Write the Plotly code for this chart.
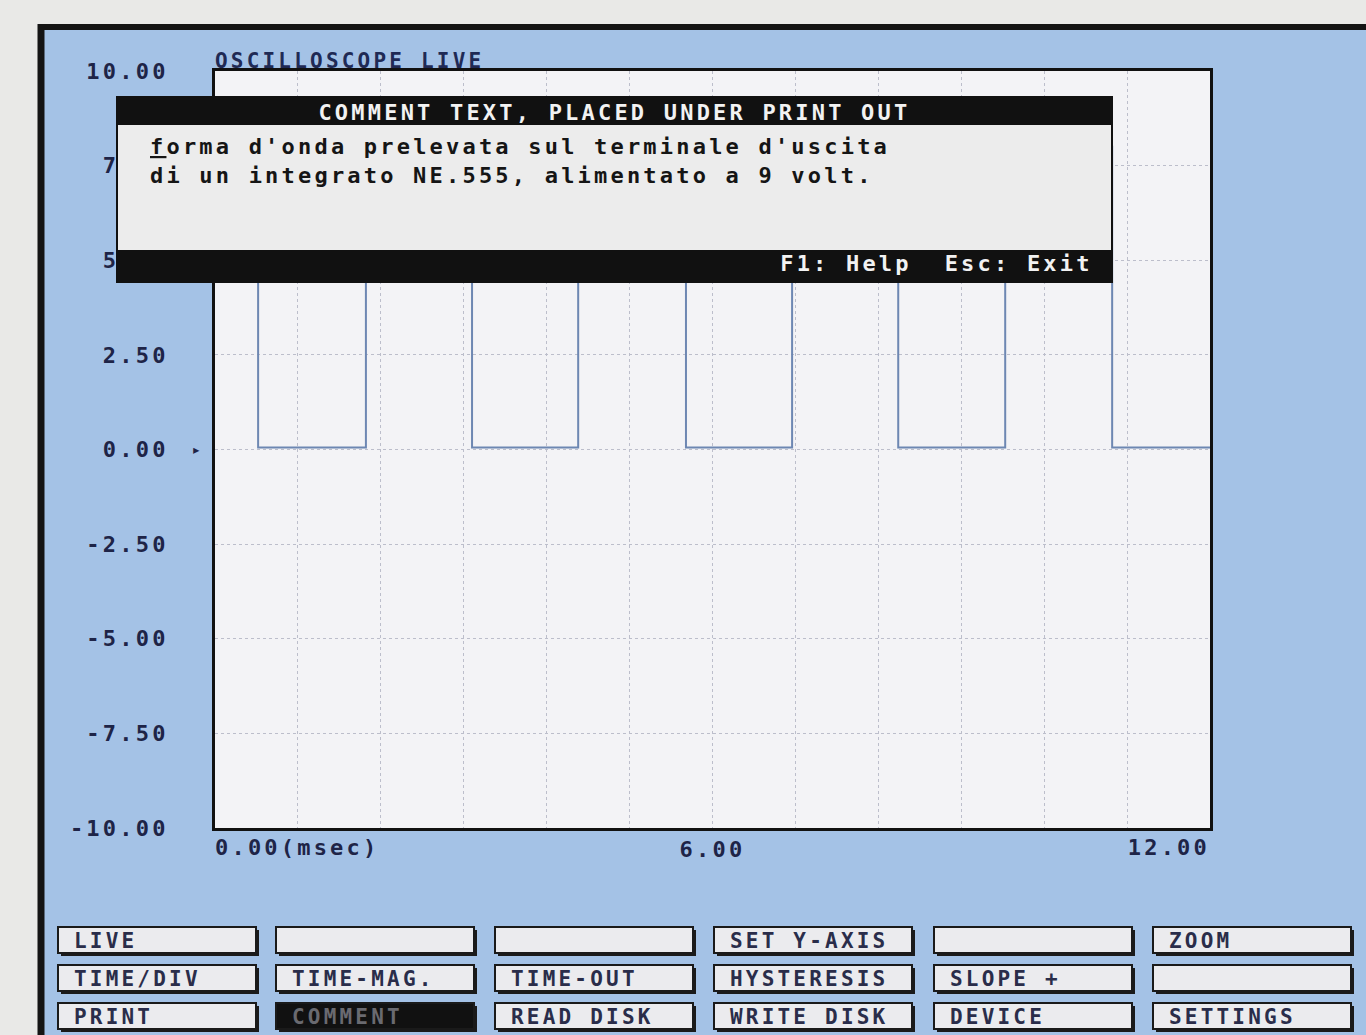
import plotly.graph_objects as go

# ---------------- data ----------------
time_ms = [0.0, 0.52, 1.82, 3.10, 4.38, 5.68, 6.96, 8.24, 9.53, 10.82, 12.0]
volts = [8.0, 0.05, 8.0, 0.05, 8.0, 0.05, 8.0, 0.05, 8.0, 0.05, 0.05]

y_tick_vals = [10, 7.5, 5, 2.5, 0, -2.5, -5, -7.5, -10]
y_tick_text = ["10.00", "7.50", "5.00", "2.50", "0.00", "-2.50", "-5.00", "-7.50", "-10.00"]
x_tick_vals = [0, 6, 12]
x_tick_text = ["0.00(msec)", "6.00", "12.00"]
x_grid_vals = list(range(0, 13))

title_text = "OSCILLOSCOPE LIVE"
dialog_title = "COMMENT TEXT, PLACED UNDER PRINT OUT"
dialog_lines = ["<u>f</u>orma d'onda prelevata sul terminale d'uscita",
                "di un integrato NE.555, alimentato a 9 volt."]
dialog_footer = "F1: Help  Esc: Exit"

button_rows = [
    ["LIVE", "", "", "SET Y-AXIS", "", "ZOOM"],
    ["TIME/DIV", "TIME-MAG.", "TIME-OUT", "HYSTERESIS", "SLOPE +", ""],
    ["PRINT", "COMMENT", "READ DISK", "WRITE DISK", "DEVICE", "SETTINGS"],
]
active_button = "COMMENT"

# ---------------- layout geometry ----------------
W, H = 1366, 1035
L, R, T, B = 215, 1210, 71, 828
PW, PH = R - L, B - T


def px(x):
    return (x - L) / PW


def py(y):
    return (B - y) / PH


MONO = "DejaVu Sans Mono"
INK = "#1e2447"
BLUE = "#a4c2e6"
OFFWHITE = "#e9e9e7"
GRID = "#bcbecb"
FS = 22
SPACING = 3.2

fig = go.Figure()
fig.add_trace(go.Scatter(
    x=time_ms, y=volts, mode="lines", line_shape="hv",
    line=dict(color="#6d87b2", width=2), hoverinfo="skip", showlegend=False))
# invisible copies that anchor the two overlaid label axes
for ax in ("x2", "x3"):
    fig.add_trace(go.Scatter(
        x=time_ms, y=volts, mode="lines", line_shape="hv", xaxis=ax, yaxis="y",
        opacity=0, line=dict(width=1), hoverinfo="skip", showlegend=False))

shapes = []
# off-white photo surroundings (outside the monitor frame)
shapes.append(dict(type="rect", xref="paper", yref="paper", layer="below",
                   x0=px(-20), x1=px(38), y0=py(H + 20), y1=py(-20),
                   fillcolor=OFFWHITE, line=dict(width=0)))
shapes.append(dict(type="rect", xref="paper", yref="paper", layer="below",
                   x0=px(-20), x1=px(W + 20), y0=py(24), y1=py(-20),
                   fillcolor=OFFWHITE, line=dict(width=0)))
# black frame lines
shapes.append(dict(type="line", xref="paper", yref="paper", layer="below",
                   x0=px(41), x1=px(41), y0=py(H + 20), y1=py(24),
                   line=dict(color="#141414", width=7)))
shapes.append(dict(type="line", xref="paper", yref="paper", layer="below",
                   x0=px(38), x1=px(W + 20), y0=py(27), y1=py(27),
                   line=dict(color="#141414", width=6)))

# comment dialog
shapes.append(dict(type="rect", xref="paper", yref="paper", layer="above",
                   x0=px(117), x1=px(1112), y0=py(282), y1=py(97),
                   fillcolor="#ececec", line=dict(color="#111111", width=2)))
shapes.append(dict(type="rect", xref="paper", yref="paper", layer="above",
                   x0=px(117), x1=px(1112), y0=py(125), y1=py(97),
                   fillcolor="#111111", line=dict(width=0)))
shapes.append(dict(type="rect", xref="paper", yref="paper", layer="above",
                   x0=px(117), x1=px(1112), y0=py(282), y1=py(250),
                   fillcolor="#111111", line=dict(width=0)))

annotations = []
annotations.append(dict(xref="paper", yref="paper", x=px(213), y=py(61),
                        text=title_text, showarrow=False, xanchor="left", align="left",
                        yanchor="middle",
                        font=dict(family=MONO, size=FS - 1, color="#1f2a55", weight="bold")))
annotations.append(dict(xref="paper", yref="paper", x=px(614), y=py(112),
                        text=dialog_title, showarrow=False, xanchor="center", align="center",
                        yanchor="middle",
                        font=dict(family=MONO, size=FS, color="#f2f2f2", weight="bold")))
for i, line in enumerate(dialog_lines):
    annotations.append(dict(xref="paper", yref="paper", x=px(148), y=py(147 + 29 * i),
                            text=line, showarrow=False, xanchor="left", align="left",
                            yanchor="middle",
                            font=dict(family=MONO, size=FS, color="#151515", weight="bold")))
annotations.append(dict(xref="paper", yref="paper", x=px(1095), y=py(263),
                        text=dialog_footer, showarrow=False, xanchor="right", align="right",
                        yanchor="middle",
                        font=dict(family=MONO, size=FS, color="#f2f2f2", weight="bold")))
# trigger marker
annotations.append(dict(xref="paper", yref="y", x=px(198), y=0,
                        text="\u25b8", showarrow=False, xanchor="center", yanchor="middle",
                        font=dict(family=MONO, size=16, color=INK)))

# buttons
col_x = [58, 276, 495, 714, 934, 1153]
btn_w = 198
row_y = [927, 965, 1003]
btn_h = 26
for r, row in enumerate(button_rows):
    for c, label in enumerate(row):
        x0, y0 = col_x[c], row_y[r]
        active = label == active_button
        shapes.append(dict(type="rect", xref="paper", yref="paper", layer="above",
                           x0=px(x0 + 3), x1=px(x0 + btn_w + 3), y0=py(y0 + btn_h + 3), y1=py(y0 + 3),
                           fillcolor="#1a1a1a", line=dict(width=0)))
        shapes.append(dict(type="rect", xref="paper", yref="paper", layer="above",
                           x0=px(x0), x1=px(x0 + btn_w), y0=py(y0 + btn_h), y1=py(y0),
                           fillcolor="#111111" if active else "#ebebee",
                           line=dict(color="#1a1a1a", width=2)))
        if label:
            annotations.append(dict(xref="paper", yref="paper", x=px(x0 + 14), y=py(y0 + btn_h / 2 + 1),
                                    text=label, showarrow=False, xanchor="left", align="left",
                                    yanchor="middle",
                                    font=dict(family=MONO, size=FS - 1,
                                              color="#6a6a70" if active else "#2a2d4a",
                                              weight="bold")))

tickfont = dict(family=MONO, size=FS, color=INK, weight="bold")

fig.update_layout(
    width=W, height=H,
    margin=dict(l=L, r=W - R, t=T, b=H - B, pad=0),
    paper_bgcolor=BLUE,
    plot_bgcolor="#f3f3f6",
    showlegend=False,
    shapes=shapes,
    annotations=annotations,
    # main x axis: frame, 1 ms dotted grid, centre label "6.00"
    xaxis=dict(range=[0, 12], tickvals=[x_tick_vals[1]], ticktext=[x_tick_text[1]],
               showgrid=False, zeroline=False,
               showline=True, linecolor="#111111", linewidth=3, mirror=True,
               ticks="", ticklabelstandoff=0,
               minor=dict(tickvals=x_grid_vals, showgrid=True, gridcolor=GRID,
                          griddash="dot", gridwidth=1, ticks=""),
               tickfont=tickfont),
    # overlaid axes for the start label (left-aligned) and end label (right-aligned)
    xaxis2=dict(range=[0, 12], overlaying="x", side="bottom", anchor="y",
                tickvals=[x_tick_vals[0]], ticktext=[x_tick_text[0]],
                ticklabelposition="outside right", showgrid=False, zeroline=False,
                showline=False, ticks="", ticklabelstandoff=4, tickfont=tickfont),
    xaxis3=dict(range=[0, 12], overlaying="x", side="bottom", anchor="y",
                tickvals=[x_tick_vals[2]], ticktext=[x_tick_text[2]],
                ticklabelposition="outside left", showgrid=False, zeroline=False,
                showline=False, ticks="", ticklabelstandoff=4, tickfont=tickfont),
    yaxis=dict(range=[-10, 10], tickvals=y_tick_vals, ticktext=y_tick_text,
               showgrid=True, gridcolor=GRID, griddash="dot", gridwidth=1,
               zeroline=False,
               showline=True, linecolor="#111111", linewidth=3, mirror=True,
               ticks="", ticklabelstandoff=39,
               tickfont=tickfont),
)

# page styling: no body margin; wide DOS-style character cells via letter spacing
css = ("body{margin:0;overflow:hidden;} .main-svg text{letter-spacing:%spx;}" % SPACING)
post = ("var s=document.createElement('style');s.textContent=%r;"
        "document.head.appendChild(s);" % css)

fig.write_html("out.html", post_script=post, config={"displayModeBar": False})
